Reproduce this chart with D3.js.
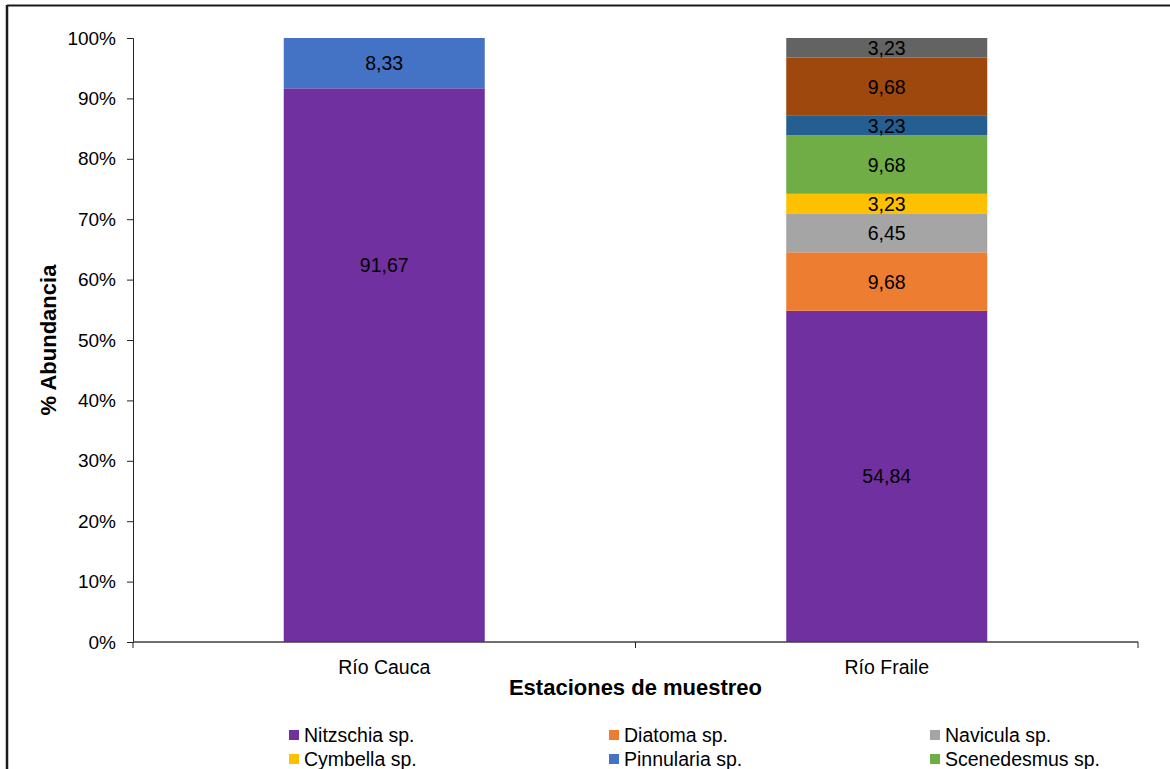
<!DOCTYPE html>
<html>
<head>
<meta charset="utf-8">
<script src="https://cdn.jsdelivr.net/npm/d3@7"></script>
<style>
  html, body { margin: 0; padding: 0; background: #fff; }
  svg { display: block; font-family: "Liberation Sans", Arial, sans-serif; }
</style>
</head>
<body>
<svg id="chart" width="1170" height="769"></svg>
<script>
// Sampling stations (x categories)
const stations = ["Río Cauca", "Río Fraile"];

// Taxa, stacked from the bottom up
const taxa = ["Nitzschia sp.", "Diatoma sp.", "Navicula sp.", "Cymbella sp.",
              "Pinnularia sp.", "Scenedesmus sp.", "taxon7", "taxon8", "taxon9"];
const taxaColors = ["#7030A0", "#ED7D31", "#A5A5A5", "#FFC000",
                    "#4472C4", "#70AD47", "#255E91", "#9E480E", "#636363"];
// Taxa shown in the legend rows
const legendTaxa = taxa.slice(0, 6);

// % abundance per taxon, one value per station
const nitzschia   = [91.67, 54.84];
const diatoma     = [0, 9.68];
const navicula    = [0, 6.45];
const cymbella    = [0, 3.23];
const pinnularia  = [8.33, 0];
const scenedesmus = [0, 9.68];
const taxon7      = [0, 3.23];
const taxon8      = [0, 9.68];
const taxon9      = [0, 3.23];
const seriesValues = [nitzschia, diatoma, navicula, cymbella, pinnularia,
                      scenedesmus, taxon7, taxon8, taxon9];

// Hand-placed label anchor (in % units) for the tall Río Cauca Nitzschia bar
const nitzschiaLabelAt = [62.4, null];

const yTicks = [0, 10, 20, 30, 40, 50, 60, 70, 80, 90, 100];

// Build rows for d3.stack
const rows = stations.map((s, i) => {
  const r = { station: s };
  taxa.forEach((t, k) => { r[t] = seriesValues[k][i]; });
  return r;
});
const stacked = d3.stack().keys(taxa)(rows);

const svg = d3.select("#chart");
const margin = { left: 133, right: 32, top: 38, bottom: 127 };
const W = 1170, H = 769;
const plotW = W - margin.left - margin.right;
const plotH = H - margin.top - margin.bottom;

// Outer frame (top and left edges visible)
svg.append("line").attr("x1", 7).attr("x2", W).attr("y1", 5.5).attr("y2", 5.5)
  .attr("stroke", "#1a1a1a").attr("stroke-width", 2);
svg.append("line").attr("x1", 7).attr("x2", 7).attr("y1", 5).attr("y2", H)
  .attr("stroke", "#1a1a1a").attr("stroke-width", 2.5);

const g = svg.append("g").attr("transform", `translate(${margin.left},${margin.top})`);

const x = d3.scaleBand().domain(stations).range([0, plotW]).paddingInner(0.6).paddingOuter(0.3);
const y = d3.scaleLinear().domain([0, 100]).range([plotH, 0]);
const color = d3.scaleOrdinal().domain(taxa).range(taxaColors);

// Bars
const layers = g.selectAll("g.layer").data(stacked).join("g")
  .attr("class", "layer").attr("fill", d => color(d.key));
layers.selectAll("rect").data(d => d.filter(p => p[1] - p[0] > 0)).join("rect")
  .attr("x", d => x(d.data.station))
  .attr("y", d => y(Math.min(100, d[1])))
  .attr("width", x.bandwidth())
  .attr("height", d => y(d[0]) - y(Math.min(100, d[1])));

// Value labels
const fmt = v => v.toFixed(2).replace(".", ",");
function labelY(layerKey, p) {
  if (layerKey === taxa[0]) {
    const at = nitzschiaLabelAt[stations.indexOf(p.data.station)];
    if (at != null) return y(at);
  }
  return (y(p[0]) + y(Math.min(100, p[1]))) / 2;
}
layers.each(function(layer) {
  d3.select(this).selectAll("text")
    .data(layer.filter(p => p[1] - p[0] > 0)).join("text")
    .attr("x", d => x(d.data.station) + x.bandwidth() / 2)
    .attr("y", d => labelY(layer.key, d))
    .attr("dy", "0.36em")
    .attr("text-anchor", "middle")
    .attr("fill", "#000")
    .attr("font-size", 19.5)
    .text(d => fmt(d[1] - d[0]));
});

// Y axis
const yAxis = g.append("g")
  .call(d3.axisLeft(y).tickValues(yTicks).tickFormat(d => d + "%").tickSize(6).tickPadding(11));
yAxis.select(".domain").attr("stroke", "#222");
yAxis.selectAll(".tick line").attr("stroke", "#222");
yAxis.selectAll(".tick text").attr("font-size", 19).attr("fill", "#000")
  .attr("font-family", "Liberation Sans, Arial, sans-serif");

// X axis: ticks at band boundaries
const xAxisG = g.append("g").attr("transform", `translate(0,${plotH})`);
xAxisG.append("line").attr("x1", 0).attr("x2", plotW).attr("y1", 0).attr("y2", 0)
  .attr("stroke", "#404040").attr("stroke-width", 1.5);
const bounds = [0, plotW / 2, plotW];
xAxisG.selectAll("line.tk").data(bounds).join("line").attr("class", "tk")
  .attr("x1", d => d).attr("x2", d => d).attr("y1", 0).attr("y2", 6)
  .attr("stroke", "#222");
xAxisG.selectAll("text.cat").data(stations).join("text").attr("class", "cat")
  .attr("x", d => x(d) + x.bandwidth() / 2)
  .attr("y", 32)
  .attr("text-anchor", "middle")
  .attr("font-size", 19.5)
  .attr("fill", "#000")
  .text(d => d);

// Axis titles
svg.append("text")
  .attr("x", margin.left + plotW / 2).attr("y", 695)
  .attr("text-anchor", "middle").attr("font-size", 22).attr("font-weight", "bold")
  .text("Estaciones de muestreo");
svg.append("text")
  .attr("transform", `translate(56,${margin.top + plotH / 2}) rotate(-90)`)
  .attr("text-anchor", "middle").attr("font-size", 22).attr("font-weight", "bold")
  .text("% Abundancia");

// Legend, three columns
const legendCols = [289, 609, 930];
const legendRows = [735, 759];
const leg = svg.append("g").selectAll("g").data(legendTaxa).join("g")
  .attr("transform", (d, i) => `translate(${legendCols[i % 3]},${legendRows[Math.floor(i / 3)]})`);
leg.append("rect").attr("x", 0).attr("y", -5).attr("width", 10).attr("height", 10)
  .attr("fill", d => color(d));
leg.append("text").attr("x", 15).attr("y", 0).attr("dy", "0.36em")
  .attr("font-size", 19.5).attr("fill", "#000").text(d => d);
</script>
</body>
</html>
